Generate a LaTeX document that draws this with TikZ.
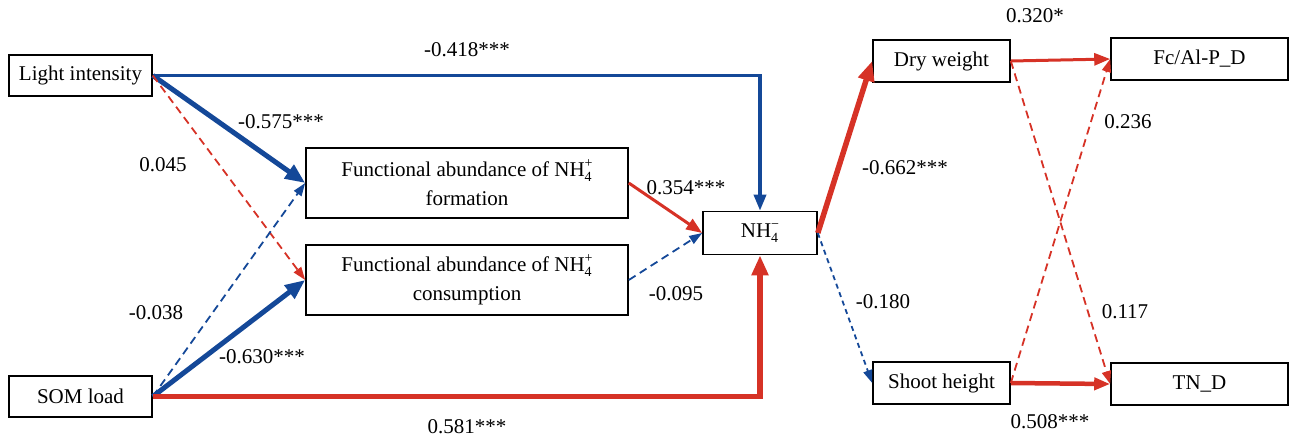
\documentclass[tikz,border=0pt]{standalone}
\usepackage{fontspec}
\setmainfont{Liberation Serif}
\usetikzlibrary{positioning,arrows.meta}

\definecolor{negblue}{RGB}{20,72,152}
\definecolor{posred}{RGB}{214,50,38}
\newcommand{\nhion}[1]{NH\makebox[0pt][l]{\raisebox{-5pt}{\fontsize{14}{14}\selectfont 4}}%
  \raisebox{9pt}{\fontsize{14}{14}\selectfont #1}}

\begin{document}
\begin{tikzpicture}[
    x=1pt, y=-1pt,
    font=\fontsize{21}{25}\selectfont,
    var/.style={draw, line width=1.6pt, inner sep=0pt, align=center, fill=white},
    endvar/.style={var, minimum width=143pt, minimum height=41pt},
    funcvar/.style={var, minimum width=322pt, minimum height=70pt},
    plantvar/.style={var, minimum width=137pt, minimum height=42pt},
    soilvar/.style={var, minimum width=177pt, minimum height=42pt},
    coef/.style={inner sep=0pt},
    tipbig/.style={-{Triangle[length=20pt,width=16pt]}},
    tipmid/.style={-{Triangle[length=16pt,width=12pt]}},
    tipsmall/.style={-{Triangle[length=13pt,width=9pt]}},
    negstrong/.style={negblue, line width=5pt, tipbig},
    negmid/.style={negblue, line width=3.5pt, tipmid},
    negweak/.style={negblue, line width=1.8pt, dash pattern=on 8pt off 5pt, tipsmall},
    negdot/.style={negblue, line width=1.8pt, dash pattern=on 5pt off 4pt, tipsmall},
    posstrong/.style={posred, line width=5.5pt, tipbig},
    posmid/.style={posred, line width=3pt, tipmid},
    posweak/.style={posred, line width=1.8pt, dash pattern=on 8pt off 5pt, tipsmall}
  ]
  \useasboundingbox (0,0) rectangle (1291,437);

  % ===== drivers =====
  \node[endvar] (light) at (80.5,75.5) {Light intensity};
  \node[endvar] (som)   at (80.5,396.5) {SOM load};

  % ===== functional genes =====
  \node[funcvar] (form) at (467,183)
    {Functional abundance of \nhion{+}\\[4pt] formation};
  \node[funcvar] (cons) at (467,280)
    {Functional abundance of \nhion{+}\\[4pt] consumption};

  % ===== ammonium =====
  \node[var, minimum width=114pt, minimum height=43pt] (nh) at (760,233)
    {\nhion{\char"2212}};

  % ===== plant and soil responses =====
  \node[plantvar] (dry)   at (941.5,61)  {Dry weight};
  \node[plantvar] (shoot) at (941.5,383) {Shoot height};
  \node[soilvar]  (feal)  at (1199.5,59) {Fc/Al-P\_D};
  \node[soilvar]  (tn)    at (1199.5,384) {TN\_D};

  % ===== paths =====
  \draw[negmid]    (light.east) -| (nh.north);
  \draw[negstrong] (light.east) -- (form.west);
  \draw[posweak]   (light.east) -- (cons.west);
  \draw[negweak]   (som.east)   -- (form.west);
  \draw[negstrong] (som.east)   -- (cons.west);
  \draw[posstrong] (som.east)   -| (nh.south);
  \draw[posmid]    (form.east)  -- (nh.west);
  \draw[negweak]   (cons.east)  -- (nh.west);
  \draw[posstrong] (nh.east)    -- (dry.west);
  \draw[negdot]    (nh.east)    -- (shoot.west);
  \draw[posmid]    (dry.east)   -- (feal.west);
  \draw[posweak]   (dry.east)   -- (tn.west);
  \draw[posweak]   (shoot.east) -- (feal.west);
  \draw[line width=4.5pt, posred, tipmid] (shoot.east) -- (tn.west);

  % ===== path coefficients =====
  \node[coef] (c1)  at (467,50)   {-0.418***};
  \node[coef] (c2)  at (281,122)  {-0.575***};
  \node[coef] (c3)  at (163,165)  {0.045};
  \node[coef] (c4)  at (156,313)  {-0.038};
  \node[coef] (c5)  at (262,357)  {-0.630***};
  \node[coef] (c6)  at (467,427)  {0.581***};
  \node[coef] (c7)  at (686,188)  {0.354***};
  \node[coef] (c8)  at (676,294)  {-0.095};
  \node[coef] (c9)  at (905,168)  {-0.662***};
  \node[coef] (c10) at (883,302)  {-0.180};
  \node[coef] (c11) at (1035,16)  {0.320*};
  \node[coef] (c12) at (1128,122) {0.236};
  \node[coef] (c13) at (1125,312) {0.117};
  \node[coef] (c14) at (1050,422) {0.508***};

\end{tikzpicture}
\end{document}
